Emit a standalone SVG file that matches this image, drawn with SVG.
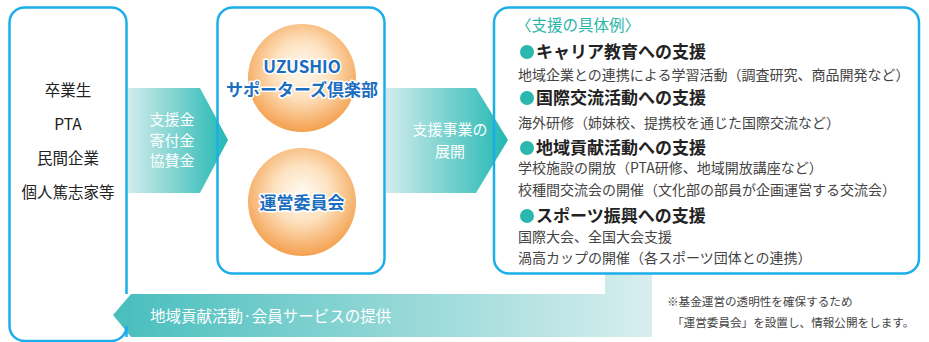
<svg xmlns="http://www.w3.org/2000/svg" width="929" height="342" viewBox="0 0 929 342">
<defs>
<linearGradient id="gR" x1="0" y1="0" x2="1" y2="0">
<stop offset="0" stop-color="#d2ecec"/>
<stop offset="1" stop-color="#22b8b3"/>
</linearGradient>
<linearGradient id="gL" gradientUnits="userSpaceOnUse" x1="113" y1="0" x2="652" y2="0">
<stop offset="0" stop-color="#47bebd"/>
<stop offset="1" stop-color="#d8eeee"/>
</linearGradient>
<radialGradient id="gC" cx="50%" cy="42%" r="58%">
<stop offset="0" stop-color="#fffbf3"/>
<stop offset="0.45" stop-color="#fde2c0"/>
<stop offset="1" stop-color="#f4a04e"/>
</radialGradient>
<style>
.box{fill:none;stroke:#1caee8;stroke-width:2.5}
.t{font-family:"Noto Sans CJK JP","Noto Sans",sans-serif}
.lt{font-size:15.5px;fill:#222;text-anchor:middle}
.at{font-size:15px;fill:#fff;text-anchor:middle}
.ct{font-size:17px;font-weight:bold;fill:#1a6dbf;stroke:#fff;stroke-width:3;paint-order:stroke;stroke-linejoin:round;text-anchor:middle}
.h{font-size:17px;font-weight:bold;fill:#222}
.b{fill:#2ab7ae}
.d{font-size:14px;fill:#444}
.n{font-size:11.6px;fill:#444}
</style>
</defs>
<rect width="929" height="342" fill="#fff"/>
<g id="connectors">
<polygon points="128,88 200,88 228,140 200,193 128,193" fill="url(#gR)"/>
<text class="t at" x="172" y="125">支援金</text>
<text class="t at" x="172" y="146">寄付金</text>
<text class="t at" x="172" y="166">協賛金</text>
<polygon points="386,88 476,88 508,140 476,193 386,193" fill="url(#gR)"/>
<text class="t at" x="450" y="135">支援事業の</text>
<text class="t at" x="450" y="157">展開</text>
<rect x="605" y="273" width="47" height="22" fill="url(#gL)"/>
<polygon points="113,315 131,294 652,294 652,337 131,337" fill="url(#gL)"/>
<text class="t" x="150" y="322" font-size="15.5" fill="#fff">地域貢献活動·会員サービスの提供</text>
</g>
<g id="supporters">
<path class="box" d="M126.5,294 V22.5 A15,15 0 0 0 111.5,7.5 H24.5 A15,15 0 0 0 9.5,22.5 V326 A15,15 0 0 0 24.5,341 H111.5 A15,15 0 0 0 126.5,326 V337"/>
<text class="t lt" x="68" y="96">卒業生</text>
<text class="t lt" x="68" y="130">PTA</text>
<text class="t lt" x="68" y="164">民間企業</text>
<text class="t lt" x="68" y="198">個人篤志家等</text>
</g>
<g id="club">
<rect class="box" x="217.5" y="7.5" width="167" height="266" rx="15"/>
<circle cx="302" cy="78" r="54" fill="url(#gC)"/>
<text class="t ct" x="302" y="73">UZUSHIO</text>
<text class="t ct" x="302" y="96">サポーターズ倶楽部</text>
</g>
<g id="committee">
<circle cx="302" cy="202" r="54" fill="url(#gC)"/>
<text class="t ct" x="302" y="209">運営委員会</text>
</g>
<g id="examples">
<rect class="box" x="494" y="7.5" width="425" height="266" rx="15"/>
<text class="t" x="516" y="31" font-size="15.5" fill="#2ab5a8">〈支援の具体例〉</text>
<circle class="b" cx="527" cy="52" r="7"/>
<text class="t h" x="536" y="58">キャリア教育への支援</text>
<text class="t d" x="518" y="80">地域企業との連携による学習活動（調査研究、商品開発など）</text>
<circle class="b" cx="527" cy="98" r="7"/>
<text class="t h" x="536" y="104">国際交流活動への支援</text>
<text class="t d" x="518" y="128">海外研修（姉妹校、提携校を通じた国際交流など）</text>
<circle class="b" cx="527" cy="148" r="7"/>
<text class="t h" x="536" y="154">地域貢献活動への支援</text>
<text class="t d" x="518" y="173">学校施設の開放（PTA研修、地域開放講座など）</text>
<text class="t d" x="518" y="195">校種間交流会の開催（文化部の部員が企画運営する交流会）</text>
<circle class="b" cx="527" cy="216" r="7"/>
<text class="t h" x="536" y="222">スポーツ振興への支援</text>
<text class="t d" x="518" y="242">国際大会、全国大会支援</text>
<text class="t d" x="518" y="263">渦高カップの開催（各スポーツ団体との連携）</text>
</g>
<g id="note">
<text class="t n" x="667" y="306">※基金運営の透明性を確保するため</text>
<text class="t n" x="672" y="327">「運営委員会」を設置し、情報公開をします。</text>
</g>
</svg>
